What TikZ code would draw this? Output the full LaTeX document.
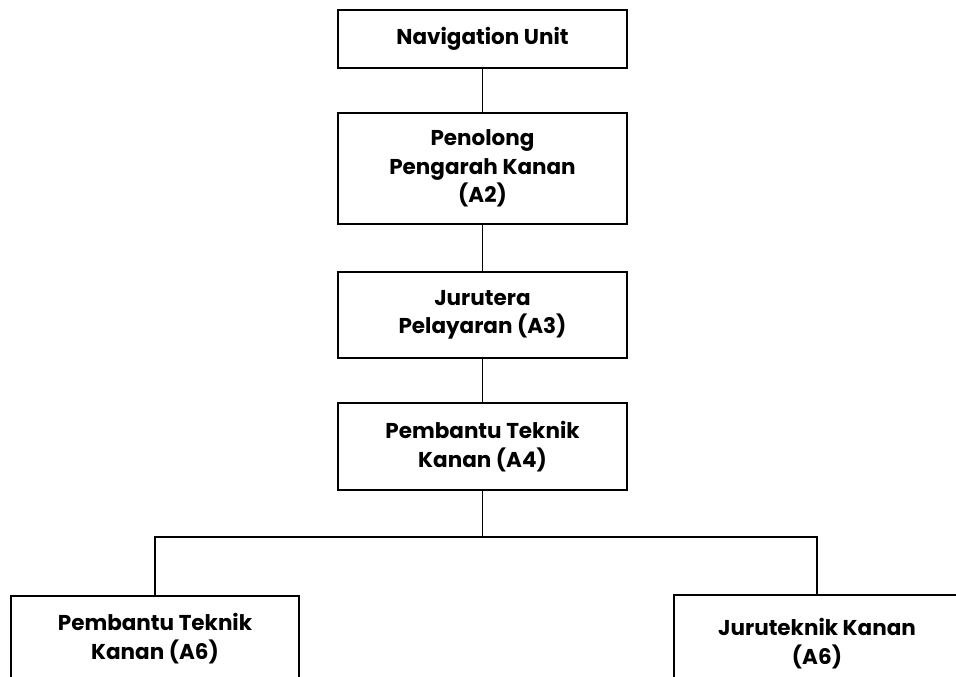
\documentclass[tikz,border=0pt]{standalone}
\usepackage{fontspec}
\setmainfont{Poppins}
\begin{document}
\begin{tikzpicture}[x=1pt,y=-1pt,
  box/.style={draw, line width=1.6pt, inner sep=0pt, align=center,
    font=\bfseries\fontsize{21.5}{28.5}\selectfont},
  link/.style={line width=1.6pt}]
\clip (0,0) rectangle (956,677);
\useasboundingbox (0,0) rectangle (956,677);

\node[box, minimum width=289pt, minimum height=58pt] (nav) at (482.5,39) {Navigation Unit};
\node[box, minimum width=289pt, minimum height=111pt] (ppk) at (482.5,168.5) {Penolong\\Pengarah Kanan\\(A2)};
\node[box, minimum width=289pt, minimum height=86pt] (jp) at (482.5,315) {Jurutera\\Pelayaran (A3)};
\node[box, minimum width=289pt, minimum height=87pt] (ptk4) at (482.5,446.5) {Pembantu Teknik\\Kanan (A4)};
\node[box, minimum width=288pt, minimum height=86pt, anchor=north] (ptk6) at (155,595) {Pembantu Teknik\\Kanan (A6)};
\node[box, minimum width=286pt, minimum height=98pt, anchor=north] (jk6) at (817,594) {Juruteknik Kanan\\(A6)};

\coordinate (split) at (482.5,537);

\draw[link] (nav) -- (ppk);
\draw[link] (ppk) -- (jp);
\draw[link] (jp) -- (ptk4);
\draw[link] (ptk4.south) -- (split);
\draw[link] (ptk6.north) |- (split) -| (jk6.north);
\end{tikzpicture}
\end{document}
